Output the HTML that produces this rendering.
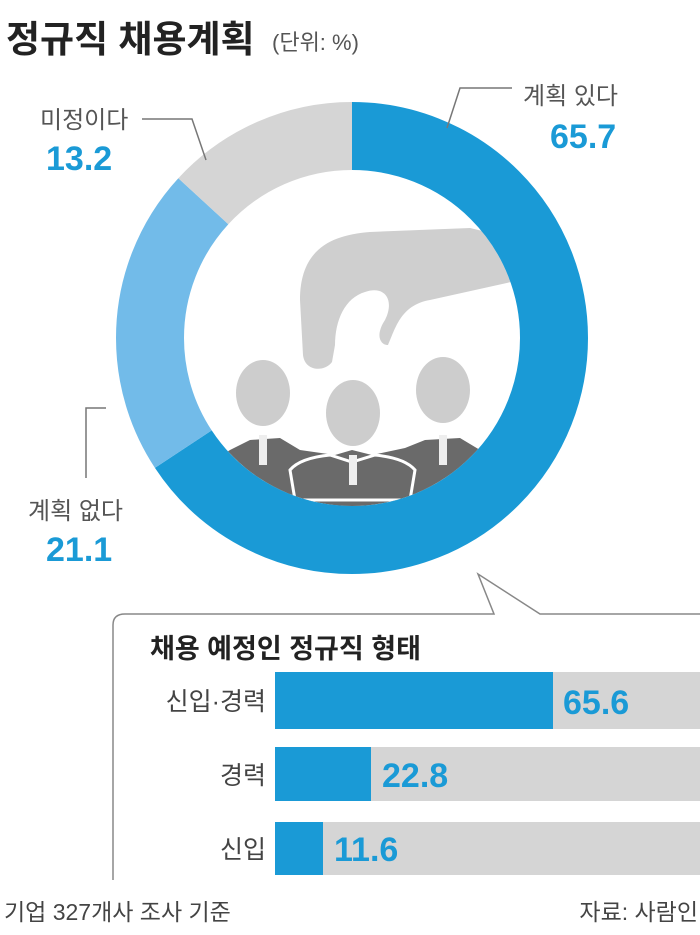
<!DOCTYPE html>
<html><head><meta charset="utf-8"><style>
html,body{margin:0;padding:0;background:#fff;}
svg{display:block;font-family:"Liberation Sans","Noto Sans CJK KR",sans-serif;}
</style></head><body>
<svg width="700" height="935" viewBox="0 0 700 935">
<text x="6" y="52" font-size="37" font-weight="bold" fill="#222">정규직 채용계획</text>
<text x="272" y="50" font-size="22" fill="#555">(단위: %)</text>

<defs><clipPath id="inner"><circle cx="352" cy="338" r="168"/></clipPath></defs>
<g clip-path="url(#inner)">
  <path d="M300 300 C300 250 330 235 370 232 L470 228 L520 240 L520 280 L430 300 C400 305 395 330 388 345 C380 345 375 335 385 320 C395 300 385 285 365 292 C345 298 335 320 335 345 L332 362 C325 372 305 372 303 355 Z" fill="#cfcfcf"/>
  <path d="M230 450 L250 440 L280 438 L300 450 L335 455 L352 450 L372 455 L405 448 L425 440 L460 438 L480 450 L520 470 L520 520 L200 520 L200 470 Z" fill="#6a6a6a"/>
  <path d="M290 470 Q300 458 330 455 L352 462 L375 455 Q405 458 415 470 L410 500 L295 500 Z" fill="none" stroke="#fff" stroke-width="3"/>
  <ellipse cx="263" cy="393" rx="27" ry="33" fill="#cdcdcd"/>
  <ellipse cx="353" cy="413" rx="27" ry="33" fill="#cdcdcd"/>
  <ellipse cx="443" cy="390" rx="27" ry="33" fill="#cdcdcd"/>
  <rect x="259" y="435" width="8" height="30" fill="#eee"/>
  <rect x="349" y="455" width="8" height="30" fill="#eee"/>
  <rect x="439" y="435" width="8" height="30" fill="#eee"/>
</g>
<g transform="rotate(-90 352 338)" fill="none" stroke-width="68">
  <circle cx="352" cy="338" r="202" stroke="#1a9ad6" stroke-dasharray="833.9 1269.2"/>
  <circle cx="352" cy="338" r="202" stroke="#72bbe9" stroke-dasharray="0 833.9 267.8 1269.2"/>
  <circle cx="352" cy="338" r="202" stroke="#d5d5d5" stroke-dasharray="0 1101.7 167.5 1269.2"/>
</g>
<g fill="none" stroke="#777" stroke-width="1.5">
  <polyline points="142,119 192,119 206,160"/>
  <polyline points="512,88 460,88 447,128"/>
  <polyline points="106,408 86,408 86,478"/>
</g>
<text x="40" y="128" font-size="24" fill="#555">미정이다</text>
<text x="46" y="170" font-size="34" font-weight="bold" fill="#1a9ad6">13.2</text>
<text x="523" y="104" font-size="24" fill="#555">계획 있다</text>
<text x="550" y="148" font-size="34" font-weight="bold" fill="#1a9ad6">65.7</text>
<text x="28" y="519" font-size="24" fill="#555">계획 없다</text>
<text x="46" y="561" font-size="34" font-weight="bold" fill="#1a9ad6">21.1</text>

<path d="M113 880 L113 625 Q113 614 125 614 L494 614 L478 574 L540 614 L700 614" fill="none" stroke="#888" stroke-width="1.5"/>
<text x="150" y="658" font-size="27" font-weight="bold" fill="#222">채용 예정인 정규직 형태</text>
<rect x="275" y="672" width="425" height="57" fill="#d5d5d5"/>
<rect x="275" y="672" width="278" height="57" fill="#1a9ad6"/>
<rect x="275" y="747" width="425" height="54" fill="#d5d5d5"/>
<rect x="275" y="747" width="96" height="54" fill="#1a9ad6"/>
<rect x="275" y="822" width="425" height="53" fill="#d5d5d5"/>
<rect x="275" y="822" width="48" height="53" fill="#1a9ad6"/>
<g font-size="25" fill="#444" text-anchor="end">
  <text x="266" y="710">신입·경력</text>
  <text x="266" y="784">경력</text>
  <text x="266" y="858">신입</text>
</g>
<g font-size="34" font-weight="bold" fill="#1a9ad6">
  <text x="563" y="714">65.6</text>
  <text x="382" y="787">22.8</text>
  <text x="334" y="861">11.6</text>
</g>
<text x="4" y="920" font-size="23" fill="#444">기업 327개사 조사 기준</text>
<text x="698" y="920" font-size="23" fill="#444" text-anchor="end">자료: 사람인</text>
</svg>
</body></html>
